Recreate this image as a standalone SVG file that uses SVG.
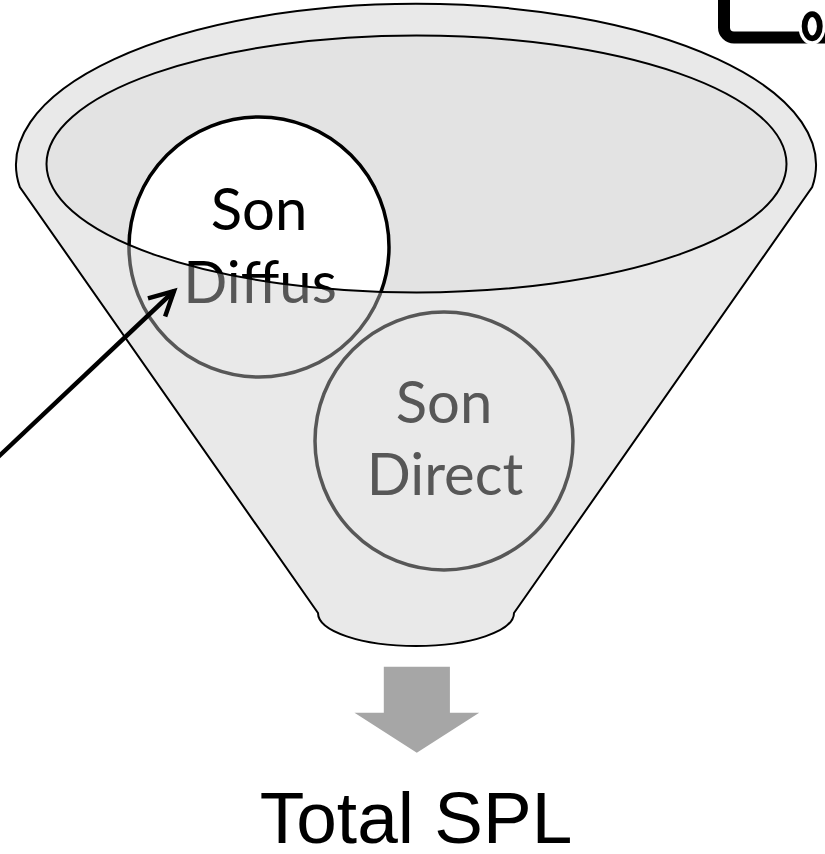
<svg xmlns="http://www.w3.org/2000/svg" width="825" height="854" viewBox="0 0 825 854">
<style>
.outline{stroke:#000;stroke-width:2;}
.lbl{font-family:Lato,"Open Sans","Liberation Sans",sans-serif;font-size:58px;text-anchor:middle;}
.front{fill:#575757;}
.back{fill:#000;}
</style>
<defs>
<clipPath id="inInner"><ellipse cx="416.5" cy="164" rx="370" ry="128.5"/></clipPath>
<clipPath id="outInner"><path clip-rule="evenodd" d="M0,0H825V854H0Z M46.5,164 a370,128.5 0 1 0 740,0 a370,128.5 0 1 0 -740,0 Z"/></clipPath>
<marker id="chev" markerUnits="userSpaceOnUse" viewBox="-30 -16 34 32" refX="0" refY="0" markerWidth="34" markerHeight="32" orient="auto" overflow="visible">
<path d="M-24,-12.5 L0,0 L-24,12.5" fill="none" stroke="#000" stroke-width="4.5" stroke-linejoin="miter" stroke-linecap="butt"/>
</marker>
</defs>
<rect width="825" height="854" fill="#fff"/>
<g id="funnel">
<path class="outline" fill="#e9e9e9" d="M19.8,187 A400,161 0 1 1 812.2,187 L514,613 A98,33 0 0 1 318,613 Z"/>
<ellipse cx="416.5" cy="164" rx="370" ry="128.5" fill="#e3e3e3"/>
</g>
<g id="son-diffus">
<g clip-path="url(#inInner)">
<circle cx="259" cy="247" r="130" fill="#fff" stroke="#000" stroke-width="3.5"/>
<text class="lbl back" x="259" y="230">Son</text>
<text class="lbl back" x="260" y="302.7">Diffus</text>
</g>
<g clip-path="url(#outInner)">
<circle cx="259" cy="247" r="130" fill="none" stroke="#575757" stroke-width="3.5"/>
<text class="lbl front" x="259" y="230">Son</text>
<text class="lbl front" x="260" y="302.7">Diffus</text>
</g>
</g>
<g id="son-direct">
<circle cx="444" cy="441" r="129" fill="none" stroke="#575757" stroke-width="3.5"/>
<text class="lbl front" x="444" y="422.5">Son</text>
<text class="lbl front" x="445" y="495">Direct</text>
</g>
<ellipse cx="416.5" cy="164" rx="370" ry="128.5" fill="none" class="outline"/>
<g id="connectors">
<line x1="-4" y1="459" x2="174" y2="291" stroke="#000" stroke-width="4.5" marker-end="url(#chev)"/>
<polygon points="383.8,666.7 449.9,666.7 449.9,712.7 479.2,712.7 416.8,752.7 354.5,712.7 383.8,712.7" fill="#a6a6a6"/>
</g>
<g id="total-spl">
<text x="416" y="843" font-family="'Liberation Sans',Arial,sans-serif" font-size="73" text-anchor="middle" fill="#000">Total SPL</text>
</g>
<g id="icon">
<rect x="724" y="-40" width="130" height="77.5" rx="10" fill="#fff" stroke="#000" stroke-width="12"/>
<ellipse cx="812" cy="26.5" rx="13.5" ry="18.5" fill="#fff"/>
<ellipse cx="812.2" cy="26.2" rx="7.6" ry="12.1" fill="#fff" stroke="#000" stroke-width="5.8"/>
</g>
</svg>
